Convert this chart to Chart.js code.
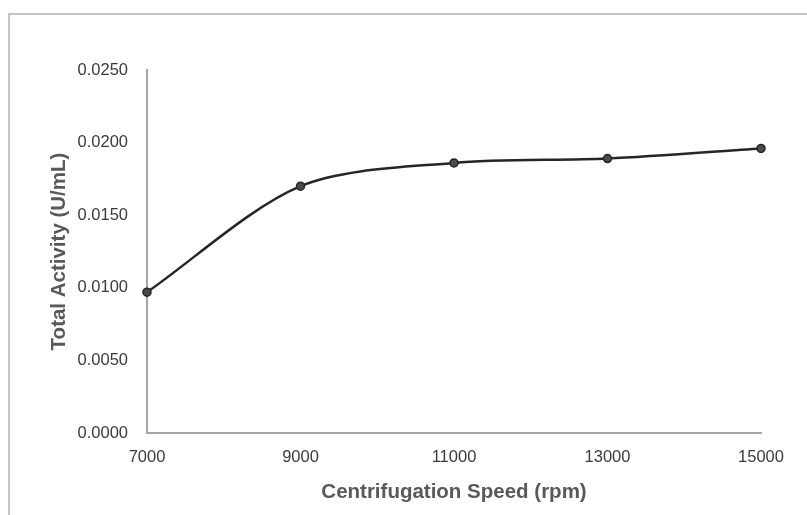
<!DOCTYPE html>
<html>
<head>
<meta charset="utf-8">
<script src="https://cdn.jsdelivr.net/npm/chart.js@4"></script>
<style>
    body { margin: 0; background: #fff; }
    #wrap { position: relative; width: 807px; height: 515px; }
    #frame { position: absolute; left: 8px; top: 13px; right: 0; bottom: 0; border-top: 2px solid #c4c4c4; border-left: 2px solid #c4c4c4; }
    #chartBox { position: absolute; left: 0; top: 0; width: 807px; height: 515px; }
</style>
</head>
<body>
<div id="wrap">
    <div id="frame"></div>
    <div id="chartBox"><canvas id="activityChart"></canvas></div>
</div>
<script>
// Скорость центрифугирования (rpm) и общая активность (U/mL)
const speeds   = [7000, 9000, 11000, 13000, 15000];
const activity = [0.0097, 0.0170, 0.0186, 0.0189, 0.0196];

const xTicks = [7000, 9000, 11000, 13000, 15000];
const yTicks = [0, 0.005, 0.010, 0.015, 0.020, 0.025];

const xTitle = "Centrifugation Speed (rpm)";
const yTitle = "Total Activity (U/mL)";

function RenderActivityChart() {
    const ctx = document.getElementById("activityChart").getContext("2d");

    const points = speeds.map((s, i) => ({ x: s, y: activity[i] }));

    new Chart(ctx, {
        type: "line",
        data: {
            datasets: [{
                data: points,
                borderColor: "#262626",
                borderWidth: 2.5,
                backgroundColor: "#404040",
                pointBackgroundColor: "#4a4a4a",
                pointBorderColor: "#262626",
                pointBorderWidth: 1.5,
                pointRadius: 4,
                tension: 0.3,
                fill: false,
                clip: false
            }]
        },
        options: {
            responsive: true,
            maintainAspectRatio: false,
            animation: false,
            layout: { padding: { left: 0, right: 46, top: 70, bottom: 0 } },
            plugins: { legend: { display: false }, tooltip: { enabled: false } },
            scales: {
                x: {
                    type: "linear",
                    min: xTicks[0],
                    max: xTicks[xTicks.length - 1],
                    afterBuildTicks: s => { s.ticks = xTicks.map(v => ({ value: v })); },
                    afterFit: s => { s.height = 82; },
                    grid: { display: false, drawTicks: false },
                    border: { color: "#a6a6a6", width: 2 },
                    ticks: {
                        color: "#3a3a3a",
                        font: { family: "Liberation Sans, Arial", size: 16.5 },
                        padding: 15,
                        maxRotation: 0,
                        callback: v => String(v)
                    },
                    title: {
                        display: true,
                        text: xTitle,
                        color: "#595959",
                        font: { family: "Liberation Sans, Arial", size: 20.5, weight: "bold" },
                        padding: { top: 0, bottom: 10 }
                    }
                },
                y: {
                    min: yTicks[0],
                    max: yTicks[yTicks.length - 1],
                    afterBuildTicks: s => { s.ticks = yTicks.map(v => ({ value: v })); },
                    afterFit: s => { s.width = 147; },
                    grid: { display: false, drawTicks: false },
                    border: { color: "#a6a6a6", width: 2 },
                    ticks: {
                        color: "#3a3a3a",
                        font: { family: "Liberation Sans, Arial", size: 16.5 },
                        padding: 19,
                        callback: v => Number(v).toFixed(4)
                    },
                    title: {
                        display: true,
                        text: yTitle,
                        color: "#595959",
                        font: { family: "Liberation Sans, Arial", size: 20.5, weight: "bold" },
                        padding: { top: 47, bottom: 0 }
                    }
                }
            }
        }
    });
}

RenderActivityChart();
</script>
</body>
</html>
